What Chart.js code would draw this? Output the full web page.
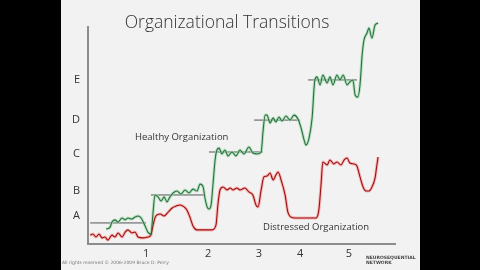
<!DOCTYPE html>
<html><head><meta charset="utf-8">
<script src="https://cdn.jsdelivr.net/npm/chart.js@4.4.0/dist/chart.umd.min.js"></script>
<style>html,body{margin:0;padding:0;background:#000;}canvas{display:block;}</style>
</head><body>
<canvas id="c" width="480" height="270"></canvas>
<script>
const titleText = "Organizational Transitions";
const healthyLabel = "Healthy Organization";
const distressedLabel = "Distressed Organization";
const footerText = "All rights reserved © 2006-2009 Bruce D. Perry";

const xTickValues = [18.9, 39.1, 55.7, 69.1, 85.0];
const xTickLabels = ["1", "2", "3", "4", "5"];
const yTickValues = [12.9, 24.4, 41.5, 57.1, 75.6];
const yTickLabels = ["A", "B", "C", "D", "E"];

const greenX = [5.9,7.2,7.8,8.8,9.8,11.1,12.1,13.0,14.3,15.3,16.3,17.3,18.6,19.5,20.5,21.2,21.8,
 22.8,23.8,24.8,25.7,26.7,27.7,29.0,30.3,31.6,32.9,34.2,35.5,36.5,37.5,38.1,38.8,39.4,40.1,40.7,41.4,42.0,
 42.7,43.6,44.6,45.6,46.9,48.2,49.5,50.8,52.4,53.7,55.0,56.4,57.0,57.7,
 58.3,59.3,60.3,61.2,62.2,63.2,64.5,65.8,67.1,68.4,69.4,70.4,71.0,72.0,73.0,73.9,
 74.6,75.6,76.5,77.9,78.8,79.8,81.1,82.1,83.1,84.4,85.3,86.3,87.0,87.9,88.6,89.3,89.9,90.9,91.5,92.5,93.5,94.5];
const greenY = [6.9,7.8,10.1,11.1,10.1,12.0,11.1,12.0,11.5,12.4,12.9,12.0,8.3,5.5,4.6,14.7,22.6,
 21.7,19.8,21.7,19.4,21.7,23.5,24.4,23.0,24.9,23.5,25.3,24.4,27.6,26.3,21.2,17.1,16.1,18.0,27.2,38.7,43.3,
 44.2,41.5,43.3,40.6,42.4,40.6,43.3,41.5,44.7,41.9,41.5,42.4,51.6,59.4,
 59.4,55.8,58.1,56.2,58.5,56.7,59.0,57.1,59.4,57.6,53.5,47.9,45.6,48.8,58.1,75.6,
 77.0,73.3,77.9,74.2,77.0,73.3,77.9,75.6,77.9,73.3,74.7,75.6,68.7,67.7,73.3,87.1,94.0,97.2,99.5,94.9,100.9,101.8];

const redX = [0.7,1.6,2.6,3.6,4.6,5.5,6.5,7.8,8.8,9.8,11.1,12.1,13.0,14.3,15.3,16.3,17.9,19.5,20.5,21.2,
 22.1,23.5,24.8,26.1,27.4,28.7,30.0,31.3,32.2,33.2,34.2,35.5,38.1,40.4,41.7,42.3,43.0,44.0,45.3,46.3,
 47.2,48.5,49.5,51.1,52.4,53.7,54.7,55.4,56.4,57.3,58.3,59.3,60.3,61.2,61.9,62.9,64.2,65.1,66.1,67.4,
 70.7,74.3,75.2,75.9,76.5,77.9,78.8,80.1,81.1,82.4,83.4,84.4,85.3,86.6,87.6,88.6,89.6,90.6,91.5,92.5,93.5,94.1,94.5];
const redY = [4.1,4.6,3.2,4.6,2.8,3.2,1.8,4.1,3.2,5.1,3.2,5.5,6.5,5.1,5.5,3.2,2.8,3.2,4.1,8.8,
 12.9,13.8,12.9,14.7,16.6,17.5,18.0,17.1,15.7,12.4,8.3,6.5,6.5,6.5,8.8,18.0,24.9,26.3,24.9,25.8,
 24.9,25.8,24.9,25.8,24.0,22.6,18.0,17.1,24.9,30.9,31.3,32.7,29.5,31.8,33.2,29.5,22.6,14.7,12.4,12.0,
 12.0,12.0,15.7,27.2,37.8,36.4,38.7,36.9,37.8,36.4,38.7,39.6,37.3,36.9,35.9,30.9,26.3,24.4,24.4,26.3,30.4,36.4,40.1];

const levelY = [9.7, 22.6, 42.4, 57.1, 75.6];
const levelStart = [0.7, 20.5, 39.4, 54.1, 71.7];
const levelEnd = [18.9, 37.8, 57.0, 69.1, 87.6];

const pts = (xs, ys) => xs.map((x, i) => ({x: x, y: ys[i]}));
const greenPts = pts(greenX, greenY);
const redPts = pts(redX, redY);

const lineBase = {pointRadius: 0, cubicInterpolationMode: 'monotone', fill: false, clip: false};
const datasets = [];
levelY.forEach((y, i) => {
  datasets.push({label: 'level' + yTickLabels[i], data: [{x: levelStart[i], y: y}, {x: levelEnd[i], y: y}],
    borderColor: '#555', borderWidth: 1, pointRadius: 0, tension: 0, order: 5});
});
datasets.push(Object.assign({label: 'healthyGlow', data: greenPts, borderColor: 'rgba(160,220,175,0.75)', borderWidth: 3, order: 4}, lineBase));
datasets.push(Object.assign({label: 'distressedGlow', data: redPts, borderColor: 'rgba(248,160,160,0.75)', borderWidth: 3, order: 4}, lineBase));
datasets.push(Object.assign({label: healthyLabel, data: greenPts, borderColor: '#2f6e40', borderWidth: 1.1, order: 1}, lineBase));
datasets.push(Object.assign({label: distressedLabel, data: redPts, borderColor: '#9a1010', borderWidth: 1.1, order: 1}, lineBase));

const slidePlugin = {
  id: 'slide',
  beforeDraw(chart) {
    const ctx = chart.ctx;
    ctx.save();
    ctx.fillStyle = '#000';
    ctx.fillRect(0, 0, chart.width, chart.height);
    ctx.fillStyle = '#f2f2f2';
    ctx.fillRect(61, 0, 359, chart.height);
    ctx.restore();
  },
  afterDraw(chart) {
    const ctx = chart.ctx;
    ctx.save();
    ctx.fillStyle = '#333';
    ctx.textBaseline = 'middle';
    ctx.textAlign = 'center';
    ctx.font = '300 17.5px "Open Sans"';
    ctx.fillText(titleText, 227, 23);
    ctx.textAlign = 'left';
    ctx.font = '9.5px "Open Sans"';
    ctx.fillStyle = '#333';
    ctx.fillText(healthyLabel, 135, 137);
    ctx.fillText(distressedLabel, 263, 227);
    ctx.font = '4.5px "DejaVu Sans"';
    ctx.fillStyle = '#777';
    ctx.fillText(footerText, 62, 263);
    ctx.font = 'bold 4.5px "DejaVu Sans"';
    ctx.fillStyle = '#444';
    ctx.fillText("NEUROSEQUENTIAL", 366, 258);
    ctx.fillText("NETWORK", 366, 263);
    ctx.restore();
  }
};

new Chart(document.getElementById('c'), {
  type: 'line',
  data: {datasets: datasets},
  options: {
    responsive: false,
    animation: false,
    events: [],
    layout: {padding: {left: 0, top: 27, right: 85, bottom: 0}},
    plugins: {legend: {display: false}, tooltip: {enabled: false}, title: {display: false}},
    scales: {
      x: {
        type: 'linear', min: 0, max: 100,
        afterBuildTicks: s => { s.ticks = xTickValues.map(v => ({value: v})); },
        afterFit: s => { s.height = 26; },
        grid: {display: false, drawTicks: false},
        border: {display: true, color: '#8c8c8c', width: 2},
        ticks: {padding: 3, color: '#333', font: {family: 'Open Sans', size: 11},
          callback: (v, i) => xTickLabels[i]}
      },
      y: {
        type: 'linear', min: 0, max: 100,
        afterBuildTicks: s => { s.ticks = yTickValues.map(v => ({value: v})); },
        afterFit: s => { s.width = 88; },
        grid: {display: false, drawTicks: false},
        border: {display: true, color: '#8c8c8c', width: 2},
        ticks: {padding: 8, color: '#333', font: {family: 'Open Sans', size: 11},
          callback: (v, i) => yTickLabels[i]}
      }
    }
  },
  plugins: [slidePlugin]
});
</script>
</body></html>
